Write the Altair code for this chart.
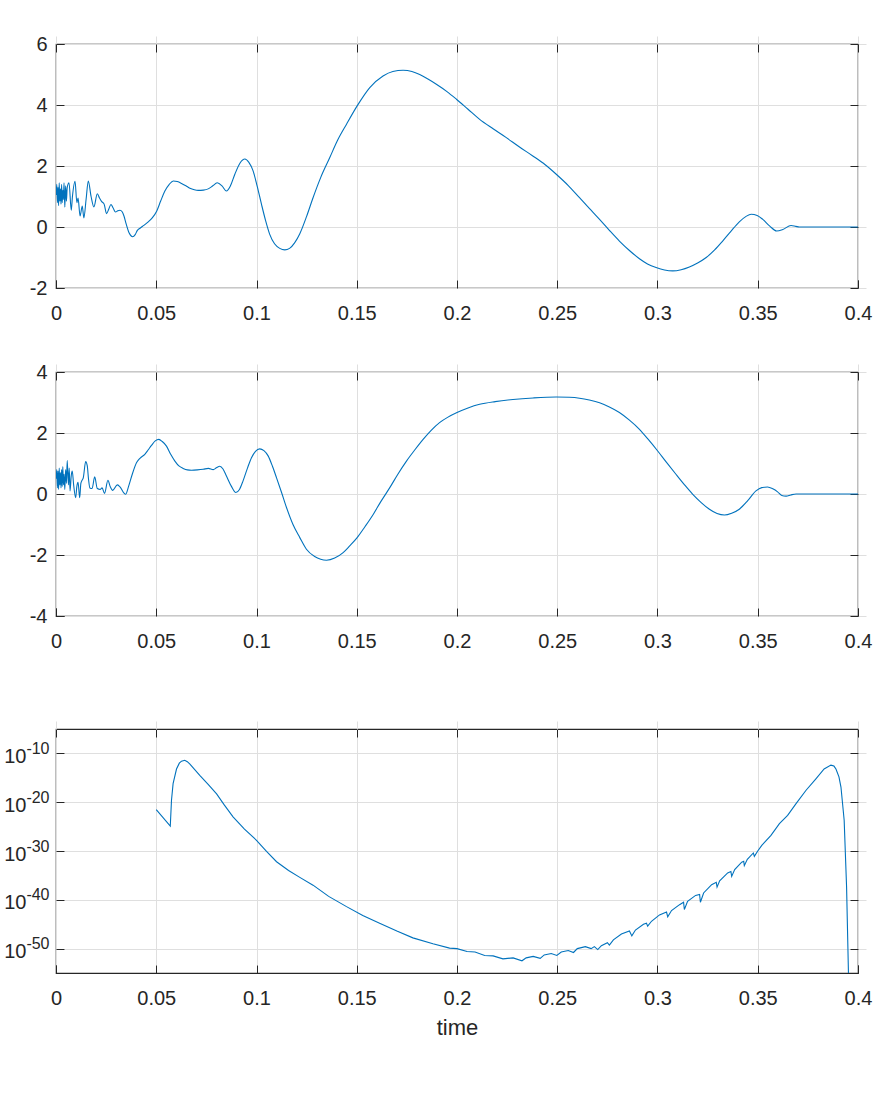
import altair as alt
import pandas as pd

# ---- series 1 -------------------------------------------------------------
t1 = [0.0000, 0.0004, 0.0007, 0.0010, 0.0013, 0.0016, 0.0019, 0.0022, 0.0025,
      0.0028, 0.0031, 0.0034, 0.0037, 0.0040, 0.0044, 0.0048, 0.0052, 0.0056,
      0.0065, 0.0076, 0.0082, 0.0095, 0.0104, 0.0110, 0.0120, 0.0131, 0.0139,
      0.0150, 0.0161, 0.0175, 0.0189, 0.0206, 0.0217, 0.0228, 0.0240, 0.0252,
      0.0264, 0.0274, 0.0285, 0.0297, 0.0308, 0.0319, 0.0330, 0.0339, 0.0350,
      0.0365, 0.0382, 0.0395, 0.0405, 0.0419, 0.0440, 0.0460, 0.0480, 0.0502,
      0.0522, 0.0543, 0.0565, 0.0585, 0.0605, 0.0626, 0.0648, 0.0668, 0.0690,
      0.0709, 0.0735, 0.0759, 0.0782, 0.0804, 0.0828, 0.0850, 0.0870, 0.0892,
      0.0918, 0.0942, 0.0962, 0.0983, 0.1003, 0.1025, 0.1045, 0.1066, 0.1090,
      0.1116, 0.1141, 0.1165, 0.1190, 0.1216, 0.1250, 0.1282, 0.1320, 0.1365,
      0.1405, 0.1449, 0.1502, 0.1565, 0.1631, 0.1680, 0.1731, 0.1775, 0.1814,
      0.1855, 0.1897, 0.1950, 0.1997, 0.2055, 0.2113, 0.2180, 0.2246, 0.2310,
      0.2378, 0.2440, 0.2495, 0.2555, 0.2611, 0.2660, 0.2711, 0.2760, 0.2810,
      0.2860, 0.2910, 0.2950, 0.2993, 0.3035, 0.3076, 0.3118, 0.3159, 0.3200,
      0.3243, 0.3285, 0.3325, 0.3365, 0.3408, 0.3440, 0.3467, 0.3497, 0.3525,
      0.3560, 0.3594, 0.3625, 0.3666, 0.3690, 0.3707, 0.3800, 0.3900, 0.4000]
v1 = [1.05, 1.40, 0.80, 1.30, 0.70, 1.45, 0.85, 1.25, 0.75,
      1.40, 0.80, 1.20, 0.90, 1.45, 0.65, 1.35, 0.85, 1.30,
      1.45, 0.55, 1.00, 1.50, 0.80, 0.95, 0.36, 0.69, 0.30,
      0.90, 1.51, 1.00, 0.66, 1.09, 0.95, 0.83, 0.75, 0.44,
      0.60, 0.74, 0.62, 0.49, 0.53, 0.55, 0.50, 0.36, 0.10,
      -0.20, -0.32, -0.25, -0.12, -0.04, 0.06, 0.17, 0.30, 0.52,
      0.85, 1.18, 1.40, 1.51, 1.49, 1.43, 1.35, 1.27, 1.22,
      1.20, 1.21, 1.25, 1.35, 1.45, 1.35, 1.18, 1.35, 1.73,
      2.10, 2.23, 2.12, 1.84, 1.35, 0.74, 0.22, -0.24, -0.55,
      -0.70, -0.75, -0.70, -0.52, -0.22, 0.35, 0.96, 1.62, 2.27,
      2.85, 3.37, 3.97, 4.57, 4.95, 5.10, 5.14, 5.10, 5.00,
      4.85, 4.68, 4.44, 4.19, 3.86, 3.53, 3.22, 2.93, 2.63,
      2.33, 2.04, 1.73, 1.36, 0.96, 0.61, 0.25, -0.11, -0.46,
      -0.77, -1.04, -1.21, -1.33, -1.41, -1.44, -1.40, -1.31, -1.18,
      -1.00, -0.75, -0.46, -0.15, 0.17, 0.34, 0.42, 0.38, 0.25,
      0.03, -0.13, -0.08, 0.05, 0.02, 0.00, 0.00, 0.00, 0.00]

# ---- series 2 -------------------------------------------------------------
t2 = [0.0000, 0.0004, 0.0007, 0.0010, 0.0013, 0.0016, 0.0019, 0.0022, 0.0025,
      0.0028, 0.0031, 0.0034, 0.0037, 0.0040, 0.0044, 0.0048, 0.0052, 0.0056,
      0.0062, 0.0066, 0.0070, 0.0076, 0.0081, 0.0088, 0.0098, 0.0104, 0.0110,
      0.0118, 0.0124, 0.0130, 0.0136, 0.0148, 0.0156, 0.0162, 0.0169, 0.0180,
      0.0193, 0.0206, 0.0220, 0.0230, 0.0242, 0.0259, 0.0270, 0.0283, 0.0306,
      0.0318, 0.0347, 0.0362, 0.0380, 0.0402, 0.0420, 0.0443, 0.0460, 0.0477,
      0.0495, 0.0513, 0.0530, 0.0551, 0.0572, 0.0593, 0.0613, 0.0634, 0.0655,
      0.0676, 0.0705, 0.0734, 0.0760, 0.0784, 0.0800, 0.0817, 0.0833, 0.0850,
      0.0875, 0.0897, 0.0915, 0.0933, 0.0955, 0.0975, 0.0995, 0.1016, 0.1037,
      0.1058, 0.1080, 0.1100, 0.1125, 0.1150, 0.1182, 0.1216, 0.1249, 0.1290,
      0.1320, 0.1349, 0.1390, 0.1432, 0.1465, 0.1502, 0.1540, 0.1582, 0.1620,
      0.1664, 0.1705, 0.1748, 0.1790, 0.1831, 0.1870, 0.1913, 0.1955, 0.2000,
      0.2055, 0.2113, 0.2190, 0.2279, 0.2380, 0.2495, 0.2560, 0.2611, 0.2660,
      0.2711, 0.2760, 0.2810, 0.2860, 0.2910, 0.2955, 0.3001, 0.3047, 0.3093,
      0.3135, 0.3176, 0.3218, 0.3259, 0.3297, 0.3334, 0.3370, 0.3408, 0.3450,
      0.3491, 0.3520, 0.3549, 0.3575, 0.3599, 0.3620, 0.3641, 0.3665, 0.3691,
      0.3750, 0.4000]
v2 = [0.50, 0.80, 0.20, 0.75, 0.15, 0.85, 0.30, 0.70, 0.20,
      0.80, 0.25, 0.90, 0.30, 0.65, 0.15, 0.80, 0.35, 1.10,
      0.30, 0.85, 0.10, 0.60, 0.75, 0.30, -0.12, 0.25, 0.38,
      -0.12, 0.35, 0.45, 0.53, 1.06, 0.92, 0.50, 0.20, 0.18,
      0.56, 0.18, 0.15, 0.20, 0.02, 0.45, 0.25, 0.12, 0.30,
      0.24, -0.01, 0.25, 0.64, 1.03, 1.18, 1.30, 1.45, 1.60,
      1.74, 1.79, 1.72, 1.57, 1.30, 1.08, 0.92, 0.84, 0.79,
      0.78, 0.79, 0.81, 0.84, 0.80, 0.86, 0.91, 0.82, 0.59,
      0.25, 0.05, 0.15, 0.43, 0.85, 1.19, 1.40, 1.48, 1.42,
      1.25, 0.90, 0.53, 0.05, -0.45, -1.00, -1.43, -1.81, -2.05,
      -2.14, -2.17, -2.10, -1.92, -1.70, -1.43, -1.08, -0.67, -0.25,
      0.20, 0.65, 1.08, 1.45, 1.79, 2.08, 2.34, 2.52, 2.67,
      2.82, 2.94, 3.03, 3.10, 3.15, 3.18, 3.17, 3.14, 3.08,
      2.99, 2.85, 2.67, 2.42, 2.12, 1.78, 1.41, 1.02, 0.64,
      0.30, -0.01, -0.28, -0.50, -0.64, -0.69, -0.63, -0.50, -0.22,
      0.10, 0.21, 0.23, 0.17, 0.07, -0.05, -0.07, -0.03, 0.00,
      0.00, 0.00]

# ---- series 3 (log10 of the value) ----------------------------------------
t3 = [0.0500, 0.0570, 0.0576, 0.0584, 0.0601, 0.0615, 0.0626, 0.0642, 0.0655,
      0.0668, 0.0717, 0.0760, 0.0801, 0.0840, 0.0883, 0.0940, 0.1000, 0.1050,
      0.1100, 0.1160, 0.1216, 0.1282, 0.1360, 0.1449, 0.1530,
      0.1614, 0.1700, 0.1780, 0.1880, 0.1963, 0.2000, 0.2050, 0.2090, 0.2138, 0.2180,
      0.2229, 0.2280, 0.2324, 0.2345, 0.2380, 0.2415, 0.2435, 0.2470, 0.2498,
      0.2520, 0.2555, 0.2581, 0.2600, 0.2640, 0.2669, 0.2685, 0.2702, 0.2720,
      0.2750, 0.2760, 0.2780, 0.2820, 0.2860, 0.2872, 0.2890, 0.2930, 0.2945,
      0.2951, 0.2970, 0.3010, 0.3045, 0.3051, 0.3070, 0.3110, 0.3130, 0.3134,
      0.3150, 0.3190, 0.3210, 0.3214, 0.3230, 0.3270, 0.3293, 0.3297, 0.3310,
      0.3350, 0.3366, 0.3370, 0.3385, 0.3420, 0.3430, 0.3433, 0.3448, 0.3478,
      0.3483, 0.3500, 0.3521, 0.3566, 0.3608, 0.3649, 0.3691, 0.3740, 0.3790,
      0.3831, 0.3865, 0.3880, 0.3890, 0.3905, 0.3915, 0.3931, 0.3943, 0.3955]
e3 = [-21.5, -24.9, -19.6, -16.2, -13.2, -12.0, -11.6, -11.4, -11.7,
      -12.2, -14.5, -16.4, -18.3, -20.6, -23.0, -25.5, -27.8, -30.1,
      -32.2, -34.0, -35.4, -37.0, -39.3, -41.4, -43.2,
      -44.8, -46.4, -47.8, -49.0, -49.9, -50.0, -50.6, -50.7, -51.4, -51.5,
      -52.1, -51.9, -52.5, -51.9, -51.6, -52.0, -51.3, -51.0, -51.4,
      -50.7, -50.4, -50.8, -50.0, -49.6, -50.0, -49.6, -50.2, -49.4,
      -48.8, -49.3, -48.2, -47.0, -46.4, -47.4, -46.2, -45.0, -44.8,
      -45.4, -44.4, -43.1, -42.5, -43.5, -42.2, -41.0, -40.5, -42.0,
      -40.3, -39.1, -38.9, -40.5, -38.6, -36.9, -36.4, -37.4, -36.1,
      -34.5, -34.2, -35.2, -33.8, -32.3, -32.1, -33.0, -31.7, -30.4,
      -31.1, -30.0, -28.8, -26.8, -24.4, -22.7, -20.3, -17.6, -15.2,
      -13.2, -12.4, -12.6, -13.2, -14.8, -16.9, -23.7, -37.3, -60.0]

x_ticks = [0, 0.05, 0.1, 0.15, 0.2, 0.25, 0.3, 0.35, 0.4]
y1_ticks = [-2, 0, 2, 4, 6]
y2_ticks = [-4, -2, 0, 2, 4]
y3_ticks = [1e-50, 1e-40, 1e-30, 1e-20, 1e-10]

LINE = "#0072BD"
INK = "#262626"
GRID = "#dfdfdf"
FONT = "Liberation Sans"
W = 802
H = 244

xscale = alt.Scale(domain=[0, 0.4], nice=False, zero=False)
# plain hyphen for negative tick labels
SIGNED = "datum.value < 0 ? '-' + format(-datum.value, '~g') : format(datum.value, '~g')"


def panel(df, yfield, yscale, yticks, interp, xtitle=None, log_labels=False,
          calc=None):
    base = alt.Chart(df)
    if calc:
        base = base.transform_calculate(**calc)
    if log_labels:
        left_axis = alt.Axis(orient="left", values=yticks, grid=True,
                             labelExpr="'10'", labelPadding=30, labelOffset=3)
    else:
        left_axis = alt.Axis(orient="left", values=yticks, grid=True,
                             labelPadding=9, labelExpr=SIGNED)
    curve = base.mark_line(color=LINE, strokeWidth=1.1, clip=True,
                           interpolate=interp).encode(
        x=alt.X("t:Q", scale=xscale, title=xtitle,
                axis=alt.Axis(orient="bottom", values=x_ticks, format="~g",
                              grid=True, labelPadding=15)),
        y=alt.Y(yfield, scale=yscale, title=None, axis=left_axis),
    )
    # inward ticks on the top and right edges of the box
    box = base.mark_line(strokeOpacity=0, clip=True).encode(
        x=alt.X("t:Q", scale=xscale, title=None,
                axis=alt.Axis(orient="top", values=x_ticks, labels=False,
                              grid=False)),
        y=alt.Y(yfield, scale=yscale, title=None,
                axis=alt.Axis(orient="right", values=yticks, labels=False,
                              grid=False)),
    )
    layers = [curve, box]
    if log_labels:
        # exponents of the decade labels
        expo = base.mark_line(strokeOpacity=0, clip=True).encode(
            x=alt.X("t:Q", scale=xscale, axis=None),
            y=alt.Y(yfield, scale=yscale, title=None,
                    axis=alt.Axis(orient="left", values=yticks, grid=False,
                                  labelExpr="'-' + format(-log(datum.value)/LN10, '.0f')",
                                  labelFontSize=16, labelOffset=-5,
                                  labelPadding=7, tickOpacity=0)),
        )
        layers.append(expo)
    return alt.layer(*layers).resolve_axis(x="independent", y="independent").properties(
        width=W, height=H)


def spacer(h):
    # empty band that separates the panels
    return alt.Chart(pd.DataFrame({"a": [0]})).mark_point(opacity=0).encode(
        x=alt.value(0), y=alt.value(0)
    ).properties(width=W, height=h, view=alt.ViewBackground(strokeOpacity=0))


df1 = pd.DataFrame({"t": t1, "v": v1})
df2 = pd.DataFrame({"t": t2, "v": v2})
df3 = pd.DataFrame({"t": t3, "e": e3})

p1 = panel(df1, "v:Q", alt.Scale(domain=[-2, 6], nice=False, zero=False),
           y1_ticks, "monotone")
p2 = panel(df2, "v:Q", alt.Scale(domain=[-4, 4], nice=False, zero=False),
           y2_ticks, "monotone")
p3 = panel(df3, "val:Q", alt.Scale(type="log", domain=[1e-55, 1e-5], nice=False),
           y3_ticks, "linear", xtitle="time", log_labels=True,
           calc={"val": "pow(10, datum.e)"})

chart = alt.vconcat(p1, spacer(84), p2, spacer(113), p3,
                    spacing=0, bounds="flush").properties(
    padding={"left": 3, "top": 33, "right": 2, "bottom": 5}
).configure_view(
    stroke=INK, strokeWidth=1.2
).configure_axis(
    domain=False,
    offset=-8,
    tickSize=8,
    tickColor=INK,
    tickWidth=1,
    gridColor=GRID,
    gridWidth=1,
    labelFont=FONT,
    labelFontSize=20,
    labelColor=INK,
    labelFlush=False,
    titleFont=FONT,
    titleFontSize=22,
    titleFontWeight="normal",
    titleColor=INK,
    titlePadding=9,
)

chart.save("out.html", embed_options={"renderer": "svg", "actions": False})
